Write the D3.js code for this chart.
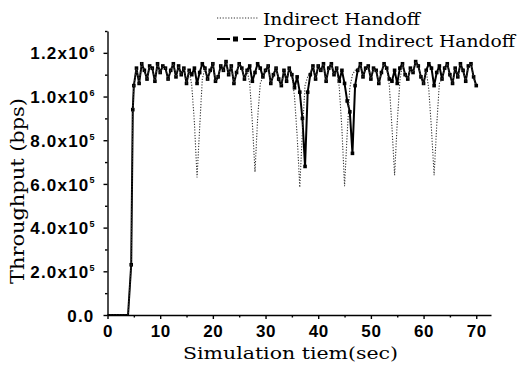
<!DOCTYPE html>
<html>
<head>
<meta charset="utf-8">
<script src="https://cdn.jsdelivr.net/npm/d3@7"></script>
<style>
  body { margin: 0; background: #fff; }
  .tick text { font-family: "Liberation Sans", Arial, sans-serif; font-weight: bold; fill: #000; }
  .ttl { font-family: "DejaVu Serif", serif; fill: #000; }
</style>
</head>
<body>
<svg id="chart" width="518" height="377"></svg>
<script>
// throughput vs simulation time, two handoff schemes (values x10^6 bps)

const riseT = [0, 3.9, 4.5, 4.8];
const riseV = [0, 0, 0.23, 0.94];

const times = [
  5, 5.5, 6, 6.5, 7, 7.5, 8, 8.5, 9, 9.5,
  10, 10.5, 11, 11.5, 12, 12.5, 13, 13.5, 14, 14.5,
  15, 15.5, 16, 16.5, 17, 17.5, 18, 18.5, 19, 19.5,
  20, 20.5, 21, 21.5, 22, 22.5, 23, 23.5, 24, 24.5,
  25, 25.5, 26, 26.5, 27, 27.5, 28, 28.5, 29, 29.5,
  30, 30.5, 31, 31.5, 32, 32.5, 33, 33.5, 34, 34.5,
  35, 35.5, 36, 36.5, 37, 37.5, 38, 38.5, 39, 39.5,
  40, 40.5, 41, 41.5, 42, 42.5, 43, 43.5, 44, 44.5,
  45, 45.5, 46, 46.5, 47, 47.5, 48, 48.5, 49, 49.5,
  50, 50.5, 51, 51.5, 52, 52.5, 53, 53.5, 54, 54.5,
  55, 55.5, 56, 56.5, 57, 57.5, 58, 58.5, 59, 59.5,
  60, 60.5, 61, 61.5, 62, 62.5, 63, 63.5, 64, 64.5,
  65, 65.5, 66, 66.5, 67, 67.5, 68, 68.5, 69, 69.5,
  70
];

const proposed = [
  1.05, 1.13, 1.06, 1.15, 1.12, 1.08, 1.14, 1.13, 1.07, 1.15,
  1.11, 1.14, 1.13, 1.08, 1.12, 1.15, 1.09, 1.14, 1.10, 1.13,
  1.06, 1.12, 1.10, 1.13, 1.06, 1.11, 1.15, 1.13, 1.08, 1.12,
  1.15, 1.07, 1.09, 1.14, 1.12, 1.16, 1.10, 1.14, 1.06, 1.11,
  1.15, 1.13, 1.08, 1.12, 1.14, 1.07, 1.11, 1.15, 1.13, 1.09,
  1.12, 1.14, 1.06, 1.10, 1.13, 1.08, 1.05, 1.12, 1.07, 1.13,
  1.10, 1.04, 1.09, 1.02, 0.90, 0.68, 1.02, 1.10, 1.14, 1.08,
  1.14, 1.12, 1.15, 1.07, 1.13, 1.15, 1.10, 1.13, 1.07, 1.12,
  1.06, 0.98, 0.93, 0.74, 1.05, 1.12, 1.15, 1.09, 1.13, 1.14,
  1.08, 1.13, 1.12, 1.06, 1.11, 1.15, 1.13, 1.08, 1.07, 1.12,
  1.06, 1.13, 1.15, 1.10, 1.08, 1.13, 1.11, 1.16, 1.14, 1.09,
  1.06, 1.12, 1.15, 1.13, 1.05, 1.11, 1.14, 1.08, 1.13, 1.15,
  1.10, 1.06, 1.13, 1.09, 1.15, 1.12, 1.07, 1.14, 1.15, 1.09,
  1.05
];

const indirect = [
  1.05, 1.13, 1.06, 1.15, 1.12, 1.08, 1.14, 1.13, 1.07, 1.15,
  1.11, 1.14, 1.13, 1.08, 1.12, 1.15, 1.09, 1.14, 1.10, 1.13,
  1.06, 1.12, 1.05, 0.88, 0.63, 0.86, 1.08, 1.13, 1.08, 1.12,
  1.15, 1.07, 1.09, 1.14, 1.12, 1.16, 1.10, 1.14, 1.06, 1.11,
  1.15, 1.13, 1.08, 1.12, 1.06, 0.88, 0.655, 0.90, 1.06, 1.09,
  1.12, 1.14, 1.06, 1.10, 1.13, 1.08, 1.05, 1.12, 1.07, 1.13,
  1.10, 1.00, 0.82, 0.585, 0.84, 1.05, 1.09, 1.11, 1.14, 1.08,
  1.14, 1.12, 1.15, 1.07, 1.13, 1.15, 1.10, 1.13, 1.04, 0.85,
  0.59, 0.83, 1.04, 1.10, 1.12, 1.12, 1.15, 1.09, 1.13, 1.14,
  1.08, 1.13, 1.12, 1.06, 1.11, 1.15, 1.13, 1.05, 0.86, 0.64,
  0.88, 1.07, 1.15, 1.10, 1.08, 1.13, 1.11, 1.16, 1.14, 1.09,
  1.06, 1.12, 1.03, 0.85, 0.64, 0.87, 1.06, 1.08, 1.13, 1.15,
  1.10, 1.06, 1.13, 1.09, 1.15, 1.12, 1.07, 1.14, 1.15, 1.09,
  1.05
];

const xTicks = [0, 10, 20, 30, 40, 50, 60, 70];
const xMinor = [5, 15, 25, 35, 45, 55, 65];
const yTicks = [0, 0.2, 0.4, 0.6, 0.8, 1.0, 1.2];
const yMinor = [0.1, 0.3, 0.5, 0.7, 0.9, 1.1, 1.3];
const yMant = ["0.0", "2.0x10", "4.0x10", "6.0x10", "8.0x10", "1.0x10", "1.2x10"];
const yExp = ["", "5", "5", "5", "5", "6", "6"];

const seriesNames = ["Indirect Handoff", "Proposed Indirect Handoff"];

const svg = d3.select("#chart");
const x = d3.scaleLinear().domain([0, 72.8]).range([107.5, 491]);
const y = d3.scaleLinear().domain([0, 1.3]).range([315, 31]);

const toPts = vals => riseT.map((t, i) => [t, riseV[i]]).concat(times.map((t, i) => [t, vals[i]]));
const line = d3.line().x(d => x(d[0])).y(d => y(d[1]));

// proposed (solid + square markers)
const pPts = toPts(proposed);
svg.append("path").attr("d", line(pPts))
  .attr("fill", "none").attr("stroke", "#000").attr("stroke-width", 2).attr("stroke-linejoin", "round");
svg.append("g").selectAll("rect").data(pPts.slice(2)).join("rect")
  .attr("x", d => x(d[0]) - 1.8).attr("y", d => y(d[1]) - 1.8)
  .attr("width", 3.6).attr("height", 3.6).attr("fill", "#000");

// indirect (dotted)
svg.append("path").attr("d", line(toPts(indirect)))
  .attr("fill", "none").attr("stroke", "#333").attr("stroke-width", 1.1)
  .attr("stroke-dasharray", "1.2,1.6");

// axes
const xAxis = svg.append("g").attr("transform", "translate(0,315)")
  .call(d3.axisBottom(x).tickValues(xTicks).tickSize(4).tickSizeOuter(0).tickPadding(6).tickFormat(d3.format("d")));
xAxis.selectAll(".tick text").attr("font-size", 17).attr("letter-spacing", 0.6);
svg.append("g").attr("transform", "translate(0,315)")
  .call(d3.axisBottom(x).tickValues(xMinor).tickSize(2.5).tickFormat("")).select(".domain").remove();

const yAxis = svg.append("g").attr("transform", "translate(107.5,0)")
  .call(d3.axisLeft(y).tickValues(yTicks).tickSize(4).tickSizeOuter(0).tickPadding(9).tickFormat(""));
yAxis.selectAll(".tick text").each(function (d, i) {
  const t = d3.select(this).attr("font-size", 17).attr("letter-spacing", 1.2).attr("dy", "0.36em");
  t.append("tspan").text(yMant[i]);
  if (yExp[i]) t.append("tspan").text(yExp[i]).attr("font-size", 9).attr("dy", "-0.8em").attr("letter-spacing", 0);
});
svg.append("g").attr("transform", "translate(107.5,0)")
  .call(d3.axisLeft(y).tickValues(yMinor).tickSize(2.5).tickFormat("")).select(".domain").remove();

svg.selectAll(".domain, .tick line").attr("stroke", "#000").attr("stroke-width", 1.4);

// axis titles
svg.append("text").attr("class", "ttl").attr("x", 183).attr("y", 359)
  .attr("font-size", 17).attr("textLength", 215).attr("lengthAdjust", "spacingAndGlyphs")
  .text("Simulation tiem(sec)");
svg.append("text").attr("class", "ttl").attr("transform", "translate(24,284) rotate(-90)")
  .attr("font-size", 18).attr("textLength", 186).attr("lengthAdjust", "spacingAndGlyphs")
  .text("Throughput (bps)");

// legend
const leg = svg.append("g");
leg.append("line").attr("x1", 217).attr("x2", 258).attr("y1", 18).attr("y2", 18)
  .attr("stroke", "#333").attr("stroke-width", 1.1).attr("stroke-dasharray", "1.2,1.6");
leg.append("line").attr("x1", 217).attr("x2", 256).attr("y1", 39).attr("y2", 39)
  .attr("stroke", "#000").attr("stroke-width", 1.8).attr("stroke-dasharray", "13,13");
leg.append("rect").attr("x", 233).attr("y", 36.5).attr("width", 5).attr("height", 5).attr("fill", "#000");
leg.selectAll("text").data(seriesNames).join("text").attr("class", "ttl")
  .attr("x", 263).attr("y", (d, i) => 25 + i * 22)
  .attr("font-size", 17)
  .attr("textLength", (d, i) => i ? 252 : 157).attr("lengthAdjust", "spacingAndGlyphs")
  .text(d => d);
</script>
</body>
</html>
